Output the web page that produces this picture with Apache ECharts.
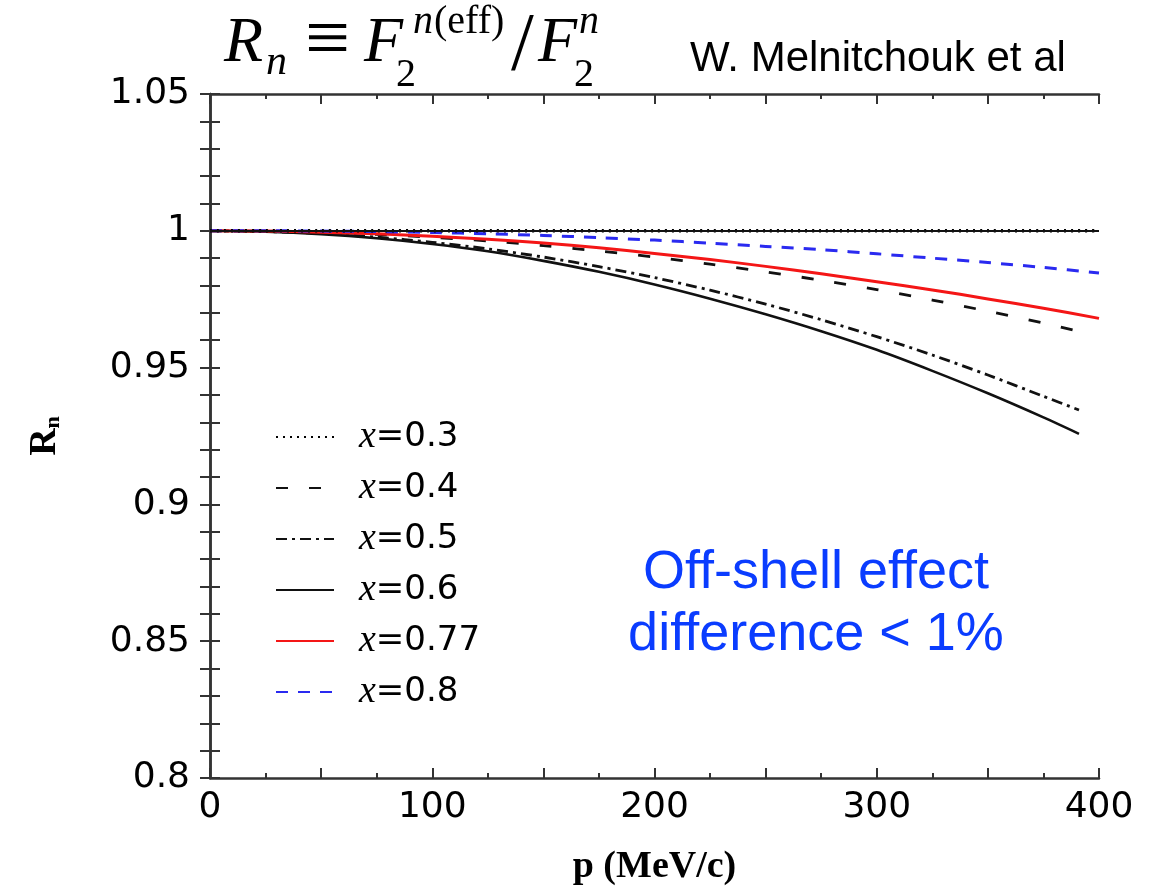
<!DOCTYPE html>
<html>
<head>
<meta charset="utf-8">
<script src="https://cdn.jsdelivr.net/npm/echarts@6/dist/echarts.min.js"></script>
<style>
  html, body { margin: 0; padding: 0; background: #fff; }
  #chart { width: 1149px; height: 891px; }
</style>
</head>
<body>
<div id="chart"></div>
<script>
// Nucleon momentum p (MeV/c) sample points
const pShort = [0, 25, 50, 75, 100, 125, 150, 175, 200, 225, 250, 275, 300, 325, 350, 375, 391];
const pLong  = [0, 25, 50, 75, 100, 125, 150, 175, 200, 225, 250, 275, 300, 325, 350, 375, 400];

// R_n = F2^n(eff) / F2^n for each Bjorken x
const rX03  = [1.0000, 1.0000, 1.0000, 1.0000, 1.0000, 1.0000, 1.0000, 1.0000, 1.0000, 1.0000, 1.0000, 1.0000, 1.0000, 1.0000, 1.0000, 1.0000, 1.0000];
const rX04  = [1.0000, 0.9998, 0.9994, 0.9987, 0.9976, 0.9963, 0.9946, 0.9926, 0.9904, 0.9878, 0.9850, 0.9819, 0.9785, 0.9747, 0.9706, 0.9663, 0.9632];
const rX05  = [1.0000, 0.9997, 0.9990, 0.9977, 0.9958, 0.9934, 0.9904, 0.9869, 0.9829, 0.9783, 0.9732, 0.9675, 0.9613, 0.9546, 0.9473, 0.9395, 0.9345];
const rX06  = [1.0000, 0.9997, 0.9988, 0.9973, 0.9952, 0.9925, 0.9890, 0.9850, 0.9804, 0.9752, 0.9695, 0.9633, 0.9565, 0.9488, 0.9406, 0.9318, 0.9258];
const rX077 = [1.0000, 0.9999, 0.9995, 0.9989, 0.9980, 0.9969, 0.9955, 0.9938, 0.9917, 0.9895, 0.9870, 0.9843, 0.9814, 0.9784, 0.9751, 0.9717, 0.9680];
const rX08  = [1.0000, 1.0000, 0.9999, 0.9997, 0.9994, 0.9989, 0.9983, 0.9975, 0.9966, 0.9955, 0.9943, 0.9931, 0.9916, 0.9900, 0.9884, 0.9866, 0.9846];

const seriesNames = ['x=0.3', 'x=0.4', 'x=0.5', 'x=0.6', 'x=0.77', 'x=0.8'];

// Tick labels
const yTickLabels = ['0.8', '0.85', '0.9', '0.95', '1', '1.05'];
const xTickLabels = ['0', '100', '200', '300', '400'];

const zip = (xs, ys) => xs.map((x, i) => [x, ys[i]]);

const chart = echarts.init(document.getElementById('chart'), null, { renderer: 'canvas' });

const frameColor = '#333';
const GL = 210, GR = 1099, GT = 94, GB = 778;

function yLabel(v) {
  const s = yTickLabels.find(t => Math.abs(parseFloat(t) - v) < 1e-6);
  return s === undefined ? '' : s;
}
function xLabel(v) {
  const s = xTickLabels.find(t => Math.abs(parseFloat(t) - v) < 1e-6);
  return s === undefined ? '' : s;
}

function lineSeries(name, xs, ys, color, type, width, z) {
  return {
    type: 'line',
    name: name,
    data: zip(xs, ys),
    showSymbol: false,
    symbol: 'none',
    smooth: 0.3,
    clip: true,
    z: z || 2,
    lineStyle: { color: color, width: width, type: type, cap: 'butt' },
    itemStyle: { color: color },
    emphasis: { disabled: true }
  };
}

const serif = '"Liberation Serif", "Times New Roman", serif';
const sans = '"DejaVu Sans", sans-serif';

// Title pieces: R_n ≡ F_2^{n(eff)} / F_2^n  (y = alphabetic baseline)
const titleParts = [
  { t: 'R', x: 224, y: 70, fs: 64, it: true },
  { t: 'n', x: 266, y: 80, fs: 42, it: true },
  { t: '\u2261', x: 305, y: 75, fs: 80, it: false },
  { t: 'F', x: 364, y: 70, fs: 64, it: true },
  { t: '2', x: 396, y: 91, fs: 40, it: false },
  { t: 'n', x: 413, y: 38, fs: 40, it: true },
  { t: '(eff)', x: 434, y: 38, fs: 40, it: false },
  { t: '/', x: 511, y: 80, fs: 82, it: false },
  { t: 'F', x: 538, y: 70, fs: 64, it: true },
  { t: '2', x: 574, y: 91, fs: 40, it: false },
  { t: 'n', x: 579, y: 38, fs: 40, it: true }
];

const graphics = titleParts.map(p => ({
  type: 'text',
  left: p.x,
  top: p.y - p.fs * 0.9,
  silent: true,
  style: {
    text: p.t,
    fill: '#000',
    font: (p.it ? 'italic ' : '') + p.fs + 'px ' + serif
  }
}));

graphics.push({
  type: 'text',
  left: 690,
  top: 38,
  silent: true,
  style: {
    text: 'W. Melnitchouk et al',
    fill: '#000',
    font: '42px "Liberation Sans", Arial, sans-serif'
  }
});

graphics.push({
  type: 'text',
  x: 816,
  y: 604,
  silent: true,
  style: {
    text: 'Off-shell effect\ndifference < 1%',
    fill: '#0a3cff',
    font: '54px "Liberation Sans", Arial, sans-serif',
    align: 'center',
    verticalAlign: 'middle',
    lineHeight: 62
  }
});

const option = {
  animation: false,
  backgroundColor: '#fff',
  grid: { left: GL, right: 1149 - GR, top: GT, bottom: 891 - GB, containLabel: false },
  legend: {
    show: true,
    orient: 'vertical',
    left: 270,
    top: 413,
    itemWidth: 58,
    itemHeight: 14,
    itemGap: 13,
    selectedMode: false,
    data: seriesNames,
    itemStyle: { opacity: 0, borderWidth: 0 },
    lineStyle: { opacity: 1 },
    formatter: function (name) { return '{a|x}{b|' + name.slice(1) + '}'; },
    textStyle: {
      rich: {
        a: { fontFamily: serif, fontStyle: 'italic', fontSize: 38, color: '#000', padding: [0, 0, 0, 20], lineHeight: 36 },
        b: { fontFamily: sans, fontSize: 34, color: '#000', lineHeight: 36 }
      }
    }
  },
  xAxis: [
    {
      type: 'value', position: 'bottom', min: 0, max: 400, interval: 50,
      name: 'p (MeV/c)', nameLocation: 'middle', nameGap: 70,
      nameTextStyle: { fontFamily: serif, fontWeight: 'bold', fontSize: 38, color: '#000' },
      axisLine: { show: true, lineStyle: { color: frameColor, width: 2.5 } },
      axisTick: { show: true, inside: true, length: 10, lineStyle: { color: frameColor, width: 2 } },
      minorTick: { show: true, splitNumber: 2, length: 5, lineStyle: { color: frameColor, width: 2 } },
      axisLabel: { show: true, formatter: xLabel, margin: 12, fontFamily: sans, fontSize: 36, color: '#000', showMinLabel: true, showMaxLabel: true },
      splitLine: { show: false }
    },
    {
      type: 'value', position: 'top', min: 0, max: 400, interval: 50,
      axisLine: { show: true, lineStyle: { color: frameColor, width: 2.5 } },
      axisTick: { show: true, inside: true, length: 10, lineStyle: { color: frameColor, width: 2 } },
      minorTick: { show: true, splitNumber: 2, length: 5, lineStyle: { color: frameColor, width: 2 } },
      axisLabel: { show: false },
      splitLine: { show: false }
    }
  ],
  yAxis: [
    {
      type: 'value', position: 'left', min: 0.8, max: 1.05, interval: 0.01,
      name: '{r|R}{s|n}', nameLocation: 'middle', nameGap: 146, nameRotate: 90,
      nameTextStyle: {
        rich: {
          r: { fontFamily: serif, fontWeight: 'bold', fontSize: 38, color: '#000', lineHeight: 38 },
          s: { fontFamily: serif, fontWeight: 'bold', fontSize: 22, color: '#000', lineHeight: 12, verticalAlign: 'bottom' }
        }
      },
      axisLine: { show: true, lineStyle: { color: frameColor, width: 2.5 } },
      axisTick: { show: true, inside: true, length: 10, lineStyle: { color: frameColor, width: 2 } },
      axisLabel: { show: true, formatter: yLabel, margin: 20, fontFamily: sans, fontSize: 36, color: '#000', showMinLabel: true, showMaxLabel: true },
      splitLine: { show: false }
    },
    {
      type: 'value', position: 'right', min: 0.8, max: 1.05, interval: 0.01,
      axisLine: { show: true, lineStyle: { color: frameColor, width: 2.5 } },
      axisTick: { show: true, inside: true, length: 10, lineStyle: { color: frameColor, width: 2 } },
      axisLabel: { show: false },
      splitLine: { show: false }
    }
  ],
  series: [
    Object.assign(lineSeries('x=0.3', pLong, rX03, '#000', [2, 5], 3.5, 3), {
      markLine: {
        silent: true,
        symbol: 'none',
        label: { show: false },
        lineStyle: { color: '#111', width: 2, type: 'solid' },
        data: [{ yAxis: 1 }]
      }
    }),
    lineSeries('x=0.4', pShort, rX04, '#111', [12, 21], 2.8),
    lineSeries('x=0.5', pShort, rX05, '#111', [11, 5, 3, 5], 2.8),
    lineSeries('x=0.6', pShort, rX06, '#111', 'solid', 2.6),
    lineSeries('x=0.77', pLong, rX077, '#f41616', 'solid', 3),
    lineSeries('x=0.8', pLong, rX08, '#2a2af0', [12, 10], 3)
  ],
  graphic: graphics
};

chart.setOption(option);
</script>
</body>
</html>
